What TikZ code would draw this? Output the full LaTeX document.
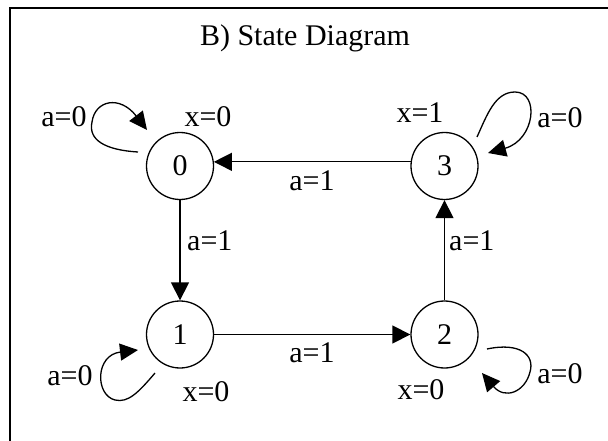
\documentclass[tikz,border=0pt]{standalone}
\usepackage{fontspec}
\setmainfont{Liberation Serif}
\usetikzlibrary{arrows.meta}
\begin{document}
\begin{tikzpicture}[x=1pt,y=-1pt,
  state/.style={circle,draw,line width=1.3pt,minimum size=67pt,inner sep=0pt,font=\fontsize{30}{36}\selectfont},
  lbl/.style={font=\fontsize{30}{36}\selectfont,inner sep=0pt,anchor=base},
  edge/.style={line width=1.3pt,-{Triangle[length=18pt,width=18pt]}},
  loopedge/.style={line width=1.3pt,-{Triangle[length=18pt,width=17pt]}},
]
\useasboundingbox (0,0) rectangle (608,441);
\draw[line width=2pt] (10,441) -- (10,8) -- (608,8);
\node[lbl] (title) at (305,46) {B) State Diagram};

\node[state] (n0) at (180,166) {0};
\node[state] (n1) at (180,334.5) {1};
\node[state] (n2) at (444.5,334.5) {2};
\node[state] (n3) at (444.5,166) {3};

\draw[edge] (n3.173) -- (n0.7);
\draw[edge] (n0.south) -- (n1.north);
\draw[edge] (n1.east) -- (n2.west);
\draw[edge] (n2.north) -- (n3.south);

\node[lbl] (l30) at (312,190) {a=1};
\node[lbl,anchor=base west] (l01) at (187,250) {a=1};
\node[lbl] (l12) at (312,362) {a=1};
\node[lbl,anchor=base west] (l23) at (449,250) {a=1};

% self loops
\coordinate (s0) at (138,152); \coordinate (e0) at (147,130);
\draw[loopedge] (s0) .. controls (105,150) and (88,140) .. (92,122) .. controls (95,100) and (120,95) .. (e0);
\coordinate (s3) at (477,137); \coordinate (e3) at (488,153);
\draw[loopedge] (s3) .. controls (487,115) and (495,92) .. (515,92) .. controls (540,92) and (535,140) .. (e3);
\coordinate (s1) at (155,373); \coordinate (e1) at (138,350);
\draw[loopedge] (s1) .. controls (138,393) and (128,403) .. (115,400) .. controls (95,395) and (95,355) .. (e1);
\coordinate (s2) at (487,349); \coordinate (e2) at (482,373);
\draw[loopedge] (s2) .. controls (520,342) and (535,355) .. (530,372) .. controls (525,392) and (505,400) .. (e2);

\node[lbl] (a0) at (64,127) {a=0};
\node[lbl] (x0) at (208,127) {x=0};
\node[lbl] (x3) at (420,123) {x=1};
\node[lbl] (a3) at (560,128) {a=0};
\node[lbl] (a1) at (70,385) {a=0};
\node[lbl] (x1) at (206,401) {x=0};
\node[lbl] (x2) at (421,399) {x=0};
\node[lbl] (a2) at (560,383) {a=0};
\end{tikzpicture}
\end{document}
